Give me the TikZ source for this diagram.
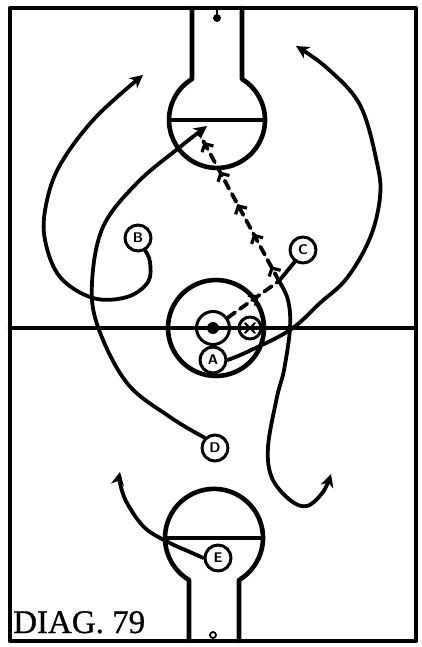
\documentclass[tikz,border=0pt]{standalone}
\usepackage{fontspec}
\setmainfont{Liberation Serif}
\newfontfamily\labelfont[FakeBold=0.8]{Liberation Serif}
\usetikzlibrary{arrows.meta,decorations.markings}
\begin{document}
\begin{tikzpicture}[x=1pt,y=-1pt, line cap=round, line join=round,
  court/.style={line width=4.6pt},
  player/.style={circle, draw, line width=3pt, minimum size=26pt, inner sep=0pt,
     font=\sffamily\bfseries\fontsize{14}{14}\selectfont},
  run/.style={line width=3.8pt, -{Stealth[length=13pt,width=13pt,inset=4pt]}},
  pass/.style={line width=3.8pt, dash pattern=on 9pt off 6pt},
  passhead/.style={decoration={markings,#1}, postaction={decorate}},
  barb/.tip={Straight Barb[length=6pt,width=13pt,line width=3.2pt]}
]
\useasboundingbox (0,0) rectangle (422,647);
% court
\draw[court] (10,8) rectangle (416,641);
\draw[court] (10,328) -- (416,328);
% top key
\draw[court] (192,8) -- (192,79) arc[start angle=238.6, end angle=-58.6, radius=48] -- (242,8);
\draw[court] (169,120) -- (265,120);
\draw[line width=2.4pt] (217,8) -- (217,16);
\fill (217,18) circle[radius=4];
% bottom key
\draw[court] (189,641) -- (189,580) arc[start angle=120.7, end angle=419.3, radius=49] -- (239,641);
\draw[court] (165,538) -- (263,538);
\draw[line width=1.8pt] (213,635) circle[radius=3];
\draw[line width=1.8pt] (213,638) -- (213,641);
% center circle
\draw[court] (216,328) circle[radius=48];
% ball and opponent
\node[circle, draw, line width=3pt, minimum size=33pt, inner sep=0pt] (ball) at (213,328) {};
\fill (ball.center) circle[radius=6];
\node[player, minimum size=22pt] (X) at (250,328) {};
\draw[line width=1.8pt] (X.center) ++(-5,-5) -- ++(10,10);
\draw[line width=1.8pt] (X.center) ++(5,-5) -- ++(-10,10);
% players
\node[player] (A) at (213,360) {A};
\node[player] (B) at (138,238) {B};
\node[player] (C) at (303,250) {C};
\node[player] (D) at (215,448) {D};
\node[player] (E) at (218,558) {E};
\coordinate (kink) at (279,281);
\coordinate (goal) at (199,133);
% runs
\draw[run] plot[smooth, tension=0.6] coordinates {(B.-60) (150,262) (148,282) (127,297) (93,298) (60,277) (45,240) (46,205) (60,165) (95,118) (143,75)};
\draw[run] plot[smooth, tension=0.6] coordinates {(D.135) (170,417) (127,383) (98,327) (92,283) (103,227) (137,183) (180,147) (207,126)};
\draw[line width=3.8pt] (C.235) -- (kink);
\draw[run] plot[smooth, tension=0.6] coordinates {(kink) (288,300) (290,328) (284,370) (277,397) (268,447) (272,478) (290,500) (307,506) (323,492) (331,474)};
\draw[run] plot[smooth, tension=0.6] coordinates {(A.east) (247,352) (290,330) (320,303) (347,278) (370,238) (380,197) (377,163) (360,105) (327,68) (296,46)};
\draw[run] plot[smooth, tension=0.6] coordinates {(E.west) (190,552) (170,543) (145,528) (127,503) (120,483) (120,472)};
% passes
\draw[pass, passhead={mark=at position 0.6 with {\arrow{barb}}}] (ball.35) -- (kink);
\draw[pass, passhead={mark=at position 0.1 with {\arrow{barb}}, mark=at position 0.32 with {\arrow{barb}}, mark=at position 0.52 with {\arrow{barb}}, mark=at position 0.74 with {\arrow{barb}}, mark=at position 0.94 with {\arrow{barb}}}] (kink) -- (goal);
% label
\node[anchor=base west, inner sep=0pt, font=\labelfont\fontsize{33}{33}\selectfont] (label) at (13,633) {DIAG. 79};
\end{tikzpicture}
\end{document}
